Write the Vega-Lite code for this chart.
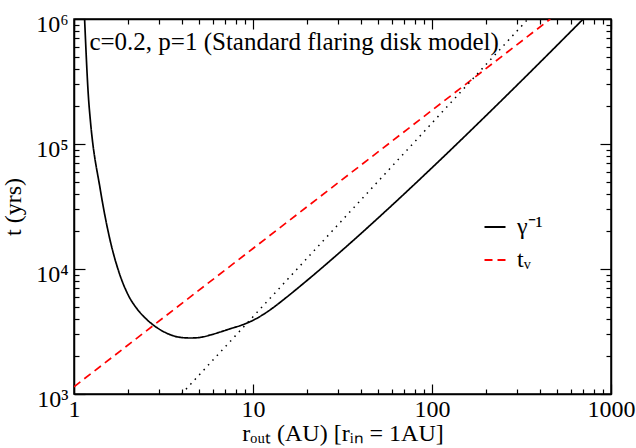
{
  "$schema": "https://vega.github.io/schema/vega-lite/v6.json",
  "width": 537,
  "height": 375,
  "autosize": {"type": "none"},
  "padding": {"left": 74, "top": 19, "right": 25, "bottom": 54},
  "background": "white",
  "config": {
    "font": "Liberation Serif",
    "view": {"stroke": "black", "strokeWidth": 1.5},
    "axis": {
      "grid": false,
      "domainColor": "black",
      "domainWidth": 1.5,
      "tickColor": "black",
      "tickWidth": 1.2,
      "labelFont": "Liberation Serif",
      "labelFontSize": 24,
      "labelColor": "black",
      "labelOverlap": false,
      "labelFlush": false,
      "titleFont": "Liberation Serif",
      "titleFontSize": 24,
      "titleFontWeight": "normal",
      "titleColor": "black"
    },
    "legend": {
      "orient": "none",
      "legendX": 409,
      "legendY": 196,
      "symbolType": "stroke",
      "symbolSize": 441,
      "symbolStrokeWidth": 1.8,
      "labelFont": "Liberation Serif",
      "labelFontSize": 24,
      "labelColor": "black",
      "labelOffset": 10,
      "rowPadding": 9,
      "padding": 0
    }
  },
  "datasets": {
    "curves": [
      {"series": "gamma", "r": 1.146, "t": 1000000},
      {"series": "gamma", "r": 1.207, "t": 225900},
      {"series": "gamma", "r": 1.233, "t": 157000},
      {"series": "gamma", "r": 1.403, "t": 43050},
      {"series": "gamma", "r": 1.585, "t": 17380},
      {"series": "gamma", "r": 1.778, "t": 9550},
      {"series": "gamma", "r": 1.995, "t": 6310},
      {"series": "gamma", "r": 2.239, "t": 4842},
      {"series": "gamma", "r": 2.512, "t": 4027},
      {"series": "gamma", "r": 2.673, "t": 3715},
      {"series": "gamma", "r": 3.034, "t": 3266},
      {"series": "gamma", "r": 3.456, "t": 2979},
      {"series": "gamma", "r": 3.926, "t": 2838},
      {"series": "gamma", "r": 4.467, "t": 2805},
      {"series": "gamma", "r": 5.077, "t": 2838},
      {"series": "gamma", "r": 5.774, "t": 2965},
      {"series": "gamma", "r": 6.561, "t": 3133},
      {"series": "gamma", "r": 7.467, "t": 3327},
      {"series": "gamma", "r": 8.68, "t": 3565},
      {"series": "gamma", "r": 10.08, "t": 3908},
      {"series": "gamma", "r": 11.46, "t": 4345},
      {"series": "gamma", "r": 13.03, "t": 4932},
      {"series": "gamma", "r": 14.52, "t": 5559},
      {"series": "gamma", "r": 19.95, "t": 8054},
      {"series": "gamma", "r": 31.62, "t": 14190},
      {"series": "gamma", "r": 56.23, "t": 29850},
      {"series": "gamma", "r": 100, "t": 64570},
      {"series": "gamma", "r": 193.6, "t": 160700},
      {"series": "gamma", "r": 316.2, "t": 320600},
      {"series": "gamma", "r": 699.8, "t": 1000000},
      {"series": "tnu", "r": 1, "t": 1143},
      {"series": "tnu", "r": 10, "t": 14590},
      {"series": "tnu", "r": 100, "t": 186200},
      {"series": "tnu", "r": 458, "t": 1000000}
    ],
    "dotted": [
      {"r": 3.99, "t": 1000},
      {"r": 10, "t": 4150},
      {"r": 100, "t": 147200},
      {"r": 344, "t": 1000000}
    ],
    "note": [
      {"r": 1.219, "t": 568000, "label": "c=0.2, p=1 (Standard flaring disk model)"}
    ]
  },
  "layer": [
    {
      "data": {"name": "curves"},
      "transform": [{"filter": "datum.series == 'gamma'"}],
      "mark": {"type": "line", "interpolate": "monotone", "strokeWidth": 1.7, "clip": true},
      "encoding": {
        "x": {
          "field": "r", "type": "quantitative",
          "scale": {"type": "log", "domain": [1, 1000], "nice": false},
          "axis": {
            "orient": "bottom",
            "values": [1, 10, 100, 1000],
            "labelExpr": "datum.value == 1 ? '1' : datum.value == 10 ? '10' : datum.value == 100 ? '100' : '1000'",
            "tickSize": -10,
            "labelPadding": 13,
            "title": "rₒᵤₜ (AU) [rᵢₙ = 1AU]",
            "titlePadding": 0
          }
        },
        "y": {
          "field": "t", "type": "quantitative",
          "scale": {"type": "log", "domain": [1000, 1000000], "nice": false},
          "axis": {
            "orient": "left",
            "values": [1000, 10000, 100000, 1000000],
            "labelExpr": "datum.value == 1000 ? '10³' : datum.value == 10000 ? '10⁴' : datum.value == 100000 ? '10⁵' : '10⁶'",
            "tickSize": -11,
            "labelPadding": 17,
            "labelOffset": 5,
            "title": "t (yrs)",
            "titlePadding": 10
          }
        },
        "color": {
          "field": "series", "type": "nominal",
          "scale": {"domain": ["gamma", "tnu"], "range": ["black", "#ff0000"]},
          "legend": {"title": null, "labelExpr": "datum.value == 'gamma' ? 'γ⁻¹' : 'tᵥ'"}
        },
        "strokeDash": {
          "field": "series", "type": "nominal",
          "scale": {"domain": ["gamma", "tnu"], "range": [[1, 0], [8, 5]]},
          "legend": {"title": null, "labelExpr": "datum.value == 'gamma' ? 'γ⁻¹' : 'tᵥ'"}
        }
      }
    },
    {
      "data": {"name": "curves"},
      "transform": [{"filter": "datum.series == 'tnu'"}],
      "mark": {"type": "line", "strokeWidth": 1.7, "clip": true},
      "encoding": {
        "x": {
          "field": "r", "type": "quantitative",
          "scale": {"type": "log", "domain": [1, 1000], "nice": false},
          "axis": {
            "orient": "bottom",
            "values": [2,3,4,5,6,7,8,9,20,30,40,50,60,70,80,90,200,300,400,500,600,700,800,900],
            "labels": false,
            "domain": false,
            "tickSize": -5,
            "title": null
          }
        },
        "y": {
          "field": "t", "type": "quantitative",
          "scale": {"type": "log", "domain": [1000, 1000000], "nice": false},
          "axis": {
            "orient": "left",
            "values": [2000,3000,4000,5000,6000,7000,8000,9000,20000,30000,40000,50000,60000,70000,80000,90000,200000,300000,400000,500000,600000,700000,800000,900000],
            "labels": false,
            "domain": false,
            "tickSize": -5,
            "title": null
          }
        },
        "color": {
          "field": "series", "type": "nominal",
          "scale": {"domain": ["gamma", "tnu"], "range": ["black", "#ff0000"]},
          "legend": {"title": null, "labelExpr": "datum.value == 'gamma' ? 'γ⁻¹' : 'tᵥ'"}
        },
        "strokeDash": {
          "field": "series", "type": "nominal",
          "scale": {"domain": ["gamma", "tnu"], "range": [[1, 0], [8, 5]]},
          "legend": {"title": null, "labelExpr": "datum.value == 'gamma' ? 'γ⁻¹' : 'tᵥ'"}
        }
      }
    },
    {
      "data": {"name": "dotted"},
      "mark": {"type": "line", "color": "black", "strokeWidth": 1.5, "strokeDash": [1.5, 5], "clip": true},
      "encoding": {
        "x": {
          "field": "r", "type": "quantitative",
          "scale": {"type": "log", "domain": [1, 1000], "nice": false},
          "axis": {
            "orient": "top",
            "values": [1, 10, 100, 1000],
            "labels": false,
            "tickSize": -10,
            "title": null
          }
        },
        "y": {
          "field": "t", "type": "quantitative",
          "scale": {"type": "log", "domain": [1000, 1000000], "nice": false},
          "axis": {
            "orient": "right",
            "values": [1000, 10000, 100000, 1000000],
            "labels": false,
            "tickSize": -11,
            "title": null
          }
        }
      }
    },
    {
      "data": {"name": "note"},
      "mark": {"type": "text", "align": "left", "baseline": "alphabetic", "font": "Liberation Serif", "fontSize": 25, "color": "black"},
      "encoding": {
        "x": {
          "field": "r", "type": "quantitative",
          "scale": {"type": "log", "domain": [1, 1000], "nice": false},
          "axis": {
            "orient": "top",
            "values": [2,3,4,5,6,7,8,9,20,30,40,50,60,70,80,90,200,300,400,500,600,700,800,900],
            "labels": false,
            "domain": false,
            "tickSize": -5,
            "title": null
          }
        },
        "y": {
          "field": "t", "type": "quantitative",
          "scale": {"type": "log", "domain": [1000, 1000000], "nice": false},
          "axis": {
            "orient": "right",
            "values": [2000,3000,4000,5000,6000,7000,8000,9000,20000,30000,40000,50000,60000,70000,80000,90000,200000,300000,400000,500000,600000,700000,800000,900000],
            "labels": false,
            "domain": false,
            "tickSize": -5,
            "title": null
          }
        },
        "text": {"field": "label"}
      }
    }
  ],
  "resolve": {"axis": {"x": "independent", "y": "independent"}}
}
